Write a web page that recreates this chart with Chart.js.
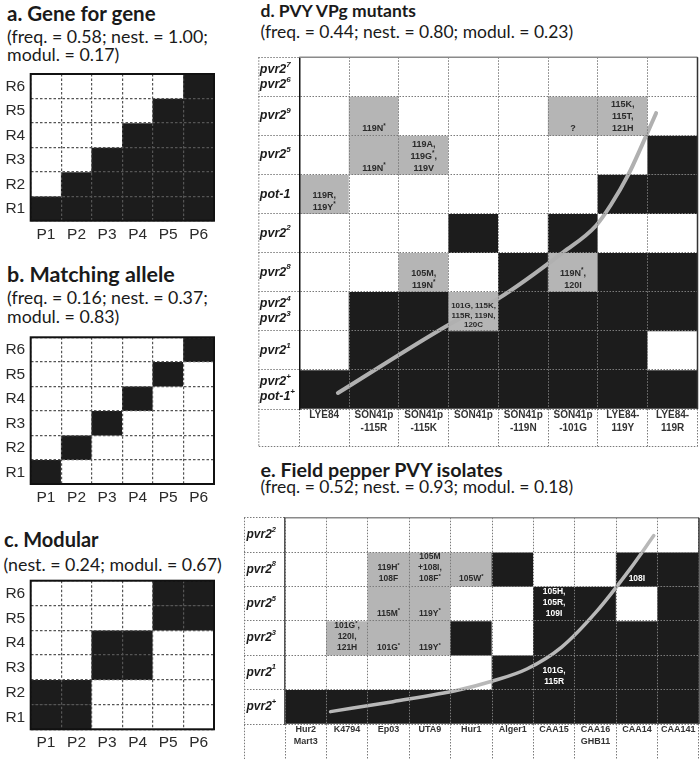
<!DOCTYPE html>
<html><head><meta charset="utf-8">
<script src="https://cdn.jsdelivr.net/npm/chart.js"></script>
<style>
html,body{margin:0;padding:0;background:#fff;width:700px;height:759px;overflow:hidden;position:relative;}
.t{position:absolute;white-space:nowrap;font-family:Lato,"Open Sans",sans-serif;color:#1a1a1a;line-height:1.2;}
.h{font-weight:700;}
canvas{position:absolute;}
</style></head><body>
<script>
// ---------------- DATA ----------------
const rRows = ['R6','R5','R4','R3','R2','R1'];          // top -> bottom
const pCols = ['P1','P2','P3','P4','P5','P6'];
// 0 = no infection (white), 1 = infection (black), 2 = infection after mutation (grey)
const aCells = [
  [0,0,0,0,0,1],
  [0,0,0,0,1,1],
  [0,0,0,1,1,1],
  [0,0,1,1,1,1],
  [0,1,1,1,1,1],
  [1,1,1,1,1,1]];
const bCells = [
  [0,0,0,0,0,1],
  [0,0,0,0,1,0],
  [0,0,0,1,0,0],
  [0,0,1,0,0,0],
  [0,1,0,0,0,0],
  [1,0,0,0,0,0]];
const cCells = [
  [0,0,0,0,1,1],
  [0,0,0,0,1,1],
  [0,0,1,1,0,0],
  [0,0,1,1,0,0],
  [1,1,0,0,0,0],
  [1,1,0,0,0,0]];

const dRows = ['pvr2^7|pvr2^6','pvr2^9','pvr2^5','pot-1','pvr2^2','pvr2^8','pvr2^4|pvr2^3','pvr2^1','pvr2^+|pot-1^+'];
const dCols = [['LYE84'],['SON41p','-115R'],['SON41p','-115K'],['SON41p'],['SON41p','-119N'],['SON41p','-101G'],['LYE84-','119Y'],['LYE84-','119R']];
const dCells = [
  [0,0,0,0,0,0,0,0],
  [0,2,0,0,0,2,2,0],
  [0,2,2,0,0,0,0,1],
  [2,0,0,0,0,0,1,1],
  [0,0,0,1,0,1,0,0],
  [0,0,2,0,1,2,1,1],
  [0,1,1,2,1,1,1,1],
  [0,1,1,1,1,1,1,0],
  [1,1,1,1,1,1,1,1]];
const dNotes = [
  [null,null,null,null,null,null,null,null],
  [null,'119N^*',null,null,null,'?','115K,|115T,|121H',null],
  [null,'119N^*','119A,|119G^*,|119V',null,null,null,null,null],
  ['119R,|119Y^*',null,null,null,null,null,null,null],
  [null,null,null,null,null,null,null,null],
  [null,null,'105M,|119N^*',null,null,'119N^*,|120I',null,null],
  [null,null,null,'101G, 115K,|115R, 119N,|120C',null,null,null,null],
  [null,null,null,null,null,null,null,null],
  [null,null,null,null,null,null,null,null]];
// trend curve (column index, row units from bottom)
const dCurveX = [-0.185, 2.49, 3.49, 5.00, 5.74, 6.08, 6.48, 6.80, 7.12];
const dCurveY = [0.41, 2.24, 2.82, 4.02, 4.69, 5.22, 5.99, 6.76, 7.57];

const eRows = ['pvr2^2','pvr2^8','pvr2^5','pvr2^3','pvr2^1','pvr2^+'];
const eCols = [['Hur2','Mart3'],['K4794'],['Ep03'],['UTA9'],['Hur1'],['Alger1'],['CAA15'],['CAA16','GHB11'],['CAA14'],['CAA141']];
const eCells = [
  [0,0,0,0,0,0,0,0,0,0],
  [0,0,2,2,2,1,0,0,1,1],
  [0,0,2,2,0,0,1,1,0,1],
  [0,2,2,2,1,0,1,1,1,1],
  [0,0,0,0,0,1,1,1,1,1],
  [1,1,1,1,1,1,1,1,1,1]];
const eNotes = [
  [null,null,null,null,null,null,null,null,null,null],
  [null,null,'119H^*|108F','105M|+108I,|108F^*','105W^*',null,null,null,'108I',null],
  [null,null,'115M^*','119Y^*',null,null,'105H,|105R,|109I',null,null,null],
  [null,'101G^*,|120I,|121H','101G^*','119Y^*',null,null,null,null,null,null],
  [null,null,null,null,null,null,'101G,|115R',null,null,null],
  [null,null,null,null,null,null,null,null,null,null]];
const eCurveX = [-0.18, 1.63, 3.53, 4.52, 5.51, 6.51, 7.52, 8.51, 9.19];
const eCurveY = [0.36, 0.65, 0.99, 1.25, 1.60, 2.23, 3.26, 4.52, 5.48];

// ---------------- TEXT ----------------
const TITLES = [
  {t:'a. Gene for gene', x:7, b:21.5, s:20.5, h:1},
  {t:'(freq. = 0.58; nest. = 1.00;', x:7, b:43.5, s:17.8},
  {t:'modul. = 0.17)', x:7, b:62, s:17.8},
  {t:'b. Matching allele', x:7, b:283.3, s:21.5, h:1},
  {t:'(freq. = 0.16; nest. = 0.37;', x:7, b:305, s:17.8},
  {t:'modul. = 0.83)', x:7, b:323.5, s:17.8},
  {t:'c. Modular', x:4, b:546.7, s:20, h:1},
  {t:'(nest. = 0.24; modul. = 0.67)', x:3.5, b:572, s:17.8},
  {t:'d. PVY VPg mutants', x:260.5, b:17, s:17.5, h:1},
  {t:'(freq. = 0.44; nest. = 0.80; modul. = 0.23)', x:260.5, b:38.5, s:17.5},
  {t:'e. Field pepper PVY isolates', x:260.5, b:477.5, s:19.7, h:1},
  {t:'(freq. = 0.52; nest. = 0.93; modul. = 0.18)', x:260.5, b:493.7, s:17.5}
];
TITLES.forEach(o => {
  const d = document.createElement('div');
  d.className = 't' + (o.h ? ' h' : '');
  d.textContent = o.t;
  d.style.left = o.x + 'px';
  d.style.top = (o.b - 0.987 * o.s) + 'px';
  d.style.fontSize = o.s + 'px';
  document.body.appendChild(d);
});

// ---------------- DRAWING ----------------
const COLORS = ['#ffffff', '#1c1c1c', '#b5b5b5'];
const FAM = '"Liberation Sans", Arial, sans-serif';
Chart.defaults.font.family = FAM;

function parseRich(text) {
  const segs = []; let buf = '';
  for (let i = 0; i < text.length; i++) {
    if (text[i] === '^' && i + 1 < text.length) {
      if (buf) segs.push({t: buf, sup: false});
      buf = '';
      segs.push({t: text[i + 1], sup: true}); i++;
    } else buf += text[i];
  }
  if (buf) segs.push({t: buf, sup: false});
  return segs;
}
function measureRich(ctx, text, f, sf) {
  let w = 0;
  parseRich(text).forEach(s => { ctx.font = s.sup ? sf : f; w += ctx.measureText(s.t).width; });
  return w;
}
function drawRich(ctx, text, x, y, align, f, sf, raise) {
  const segs = parseRich(text);
  let w = 0;
  segs.forEach(s => { ctx.font = s.sup ? sf : f; s.w = ctx.measureText(s.t).width; w += s.w; });
  let cx = align === 'center' ? x - w / 2 : align === 'right' ? x - w : x;
  ctx.textAlign = 'left'; ctx.textBaseline = 'middle';
  segs.forEach(s => { ctx.font = s.sup ? sf : f; ctx.fillText(s.t, cx, s.sup ? y - raise : y); cx += s.w; });
}

function matrixChart(cfg) {
  const {rect, labelW, labelH, rows, cols, cells, notes, cx, cy, st} = cfg;
  const pad = 2;
  const L = Math.floor(rect.l - labelW - pad), T = Math.floor(rect.t - pad);
  const W = Math.ceil(rect.r + pad) - L, H = Math.ceil(rect.b + labelH + pad) - T;
  const padL = rect.l - labelW - L, padT = rect.t - T;
  const padR = W - (rect.r - L), padB = H - (rect.b + labelH - T);
  const cv = document.createElement('canvas');
  cv.width = W; cv.height = H;
  cv.style.left = L + 'px'; cv.style.top = T + 'px';
  cv.style.width = W + 'px'; cv.style.height = H + 'px';
  document.body.appendChild(cv);

  const nR = rows.length, nC = cols.length;
  const datasets = cells.map((row, i) => {
    const r = nR - 1 - i;
    return {
      type: 'bar', xAxisID: 'x', yAxisID: 'y', order: 2,
      data: row.map(() => [r, r + 1]),
      backgroundColor: row.map(v => COLORS[v]),
      borderWidth: 0, barPercentage: 1, categoryPercentage: 1, grouped: false
    };
  });
  if (cx) {
    datasets.push({
      type: 'line', xAxisID: 'xl', yAxisID: 'y', order: 1,
      data: cx.map((x, i) => ({x: x, y: cy[i]})),
      borderColor: st.curveColor, borderWidth: st.curveW, pointRadius: 0,
      cubicInterpolationMode: 'monotone', fill: false, borderCapStyle: 'round', borderJoinStyle: 'round'
    });
  }

  const deco = {
    id: 'deco',
    afterDraw(chart) {
      const ctx = chart.ctx, a = chart.chartArea, xs = chart.scales.x, ys = chart.scales.y;
      const cw = (a.right - a.left) / nC;
      ctx.save();
      // cell notes
      if (notes) {
        notes.forEach((row, i) => row.forEach((txt, j) => {
          if (!txt) return;
          const r = nR - 1 - i;
          const lines = txt.split('|');
          let fs = st.noteSize, ls = st.noteLS;
          const mk = s => `bold ${s}px ${FAM}`;
          let mw = 0;
          lines.forEach(l => { mw = Math.max(mw, measureRich(ctx, l, mk(fs), mk(fs * 0.7))); });
          if (mw > cw - 5) { const k = (cw - 5) / mw; fs *= k; ls *= k * 0.85; }
          ctx.fillStyle = cells[i][j] === 1 ? '#ffffff' : '#2a2a2a';
          const xc = xs.getPixelForValue(j);
          const yb = ys.getPixelForValue(r) - st.noteOff;
          lines.forEach((l, k) => {
            drawRich(ctx, l, xc, yb - (lines.length - 1 - k) * ls, 'center', mk(fs), mk(fs * 0.7), fs * 0.3);
          });
        }));
      }
      // row labels
      ctx.fillStyle = st.rowColor;
      rows.forEach((lab, i) => {
        const yc = ys.getPixelForValue(nR - i - 0.5);
        const lines = lab.split('|');
        lines.forEach((l, k) => {
          const y = yc + (k - (lines.length - 1) / 2) * st.rowLS;
          const x = st.rowAlign === 'right' ? a.left - st.rowGap : a.left - labelW + st.rowGap;
          drawRich(ctx, l, x, y + st.rowDy, st.rowAlign, st.rowFont, st.rowSupFont, st.rowRaise);
        });
      });
      // frames
      if (st.frame === 'box') {
        ctx.strokeStyle = st.frameColor; ctx.lineWidth = st.frameW;
        ctx.strokeRect(a.left, a.top, a.right - a.left, a.bottom - a.top);
      } else {
        const x0 = a.left - labelW + 0.5, yb = a.bottom + labelH - 0.5;
        ctx.strokeStyle = st.gridColor; ctx.lineWidth = 1; ctx.setLineDash(st.dash);
        ctx.beginPath();
        ctx.moveTo(x0, a.top); ctx.lineTo(x0, yb);
        ctx.moveTo(x0, yb); ctx.lineTo(a.right, yb);
        ctx.stroke();
        ctx.setLineDash([]);
        ctx.lineWidth = 1.5;
        ctx.strokeStyle = st.topColor;
        ctx.beginPath(); ctx.moveTo(a.left, a.top); ctx.lineTo(a.right, a.top); ctx.stroke();
        ctx.strokeStyle = st.rightColor;
        ctx.beginPath(); ctx.moveTo(a.right, a.top); ctx.lineTo(a.right, a.bottom); ctx.stroke();
      }
      ctx.restore();
    }
  };

  new Chart(cv, {
    type: 'bar',
    data: {labels: cols, datasets},
    options: {
      responsive: false, animation: false, events: [],
      layout: {padding: {left: padL, top: padT, right: padR, bottom: padB}},
      plugins: {legend: {display: false}, tooltip: {enabled: false}, title: {display: false}},
      scales: {
        x: {
          type: 'category', offset: true, position: 'bottom',
          grid: {offset: true, color: st.gridColor, lineWidth: st.gridW, drawTicks: st.tickX, z: 1,
                 tickLength: labelH, tickColor: st.gridColor, tickWidth: st.gridW, tickBorderDash: st.dash},
          border: {display: false, dash: st.dash, z: 1},
          ticks: {autoSkip: false, maxRotation: 0, minRotation: 0, color: st.tickColor, z: 1,
                  font: st.tickFont, padding: st.tickPad},
          afterFit: s => { s.height = labelH; }
        },
        xl: {type: 'linear', display: false, min: -0.5, max: nC - 0.5},
        y: {
          type: 'linear', min: 0, max: nR, position: 'left',
          ticks: {display: false, stepSize: 1},
          grid: {color: st.gridColor, lineWidth: st.gridW, drawTicks: st.tickY, z: 1,
                 tickLength: labelW, tickColor: st.gridColor, tickWidth: st.gridW, tickBorderDash: st.dash},
          border: {display: st.yBorder, color: st.yBorderColor, width: st.yBorderW, dash: st.dash, z: 1},
          afterFit: s => { s.width = labelW; }
        }
      }
    },
    plugins: [deco]
  });
}

const SMALL = {
  gridColor: '#555555', gridW: 1.2, dash: [2.5, 2],
  tickFont: {family: FAM, size: 15.5}, tickColor: '#2b2b2b', tickPad: 4.5,
  tickX: false, tickY: false, yBorder: false,
  frame: 'box', frameColor: '#111', frameW: 2,
  rowFont: `15.5px ${FAM}`, rowSupFont: `10px ${FAM}`, rowRaise: 5, rowColor: '#2b2b2b',
  rowAlign: 'right', rowGap: 5.5, rowLS: 15, rowDy: 0.5
};
const D_ST = {
  gridColor: '#7a7a7a', gridW: 1, dash: [1.5, 1.5],
  tickFont: {family: FAM, size: 10, weight: 'bold', lineHeight: 1.3}, tickColor: '#333', tickPad: -38,
  tickX: true, tickY: true, yBorder: true, yBorderColor: '#111', yBorderW: 1.5,
  frame: 'open', topColor: '#8a8a8a', rightColor: '#333',
  rowFont: `italic bold 12.5px ${FAM}`, rowSupFont: `italic bold 8px ${FAM}`, rowRaise: 5, rowColor: '#1a1a1a',
  rowAlign: 'left', rowGap: 1.5, rowLS: 15, rowDy: 0,
  noteSize: 9, noteLS: 12, noteOff: 6.5,
  curveColor: '#b0b0b0', curveW: 4
};
const E_ST = Object.assign({}, D_ST, {
  tickFont: {family: FAM, size: 9, weight: 'bold', lineHeight: 1.333}, tickPad: -40.5,
  yBorderColor: '#555',
  rowFont: `italic bold 12px ${FAM}`, rowSupFont: `italic bold 7.5px ${FAM}`, rowGap: 2.5,
  noteSize: 8.5, noteLS: 11, noteOff: 7.5,
  curveColor: '#b8b8b8', curveW: 3.5
});

matrixChart({rect: {l: 30.7, t: 74, r: 214, b: 220.7}, labelW: 30.7, labelH: 28,
  rows: rRows, cols: pCols, cells: aCells, st: SMALL});
matrixChart({rect: {l: 30.7, t: 337.3, r: 214, b: 484}, labelW: 30.7, labelH: 26,
  rows: rRows, cols: pCols, cells: bCells, st: SMALL});
matrixChart({rect: {l: 30.7, t: 580.7, r: 214, b: 729.3}, labelW: 30.7, labelH: 27,
  rows: rRows, cols: pCols, cells: cCells, st: SMALL});
matrixChart({rect: {l: 299.3, t: 57.3, r: 697.5, b: 409}, labelW: 41, labelH: 38,
  rows: dRows, cols: dCols, cells: dCells, notes: dNotes, cx: dCurveX, cy: dCurveY, st: D_ST});
matrixChart({rect: {l: 285, t: 517.7, r: 699, b: 724}, labelW: 41, labelH: 40,
  rows: eRows, cols: eCols, cells: eCells, notes: eNotes, cx: eCurveX, cy: eCurveY, st: E_ST});
</script>
</body></html>
